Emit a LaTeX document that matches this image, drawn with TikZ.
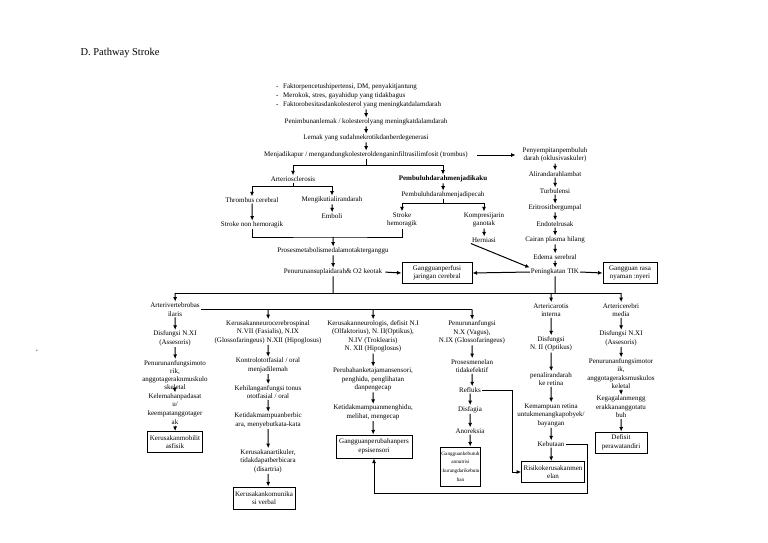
\documentclass[tikz,border=0pt]{standalone}
\usepackage{fontspec}
\setmainfont{Liberation Serif}
\usetikzlibrary{arrows.meta, positioning, calc}

\tikzset{
  lbl/.style={align=center, inner sep=1pt, font=\fontsize{7}{8.5}\selectfont},
  boxed/.style={lbl, draw, line width=1pt, inner sep=2pt, minimum height=21pt},
  arr/.style={-{Latex[length=4.5pt,width=4pt]}, line width=1pt},
  link/.style={line width=1pt}
}

\begin{document}
\begin{tikzpicture}[x=1pt, y=-1pt]
\useasboundingbox[fill=white] (0,0) rectangle (768,543);

\node[anchor=west, font=\fontsize{10.5}{12}\selectfont] (title) at (77,53) {D. Pathway Stroke};
\node[lbl] (tick) at (37,352) {`};

% risk factors and the first chain
\node[lbl, align=left, anchor=west, font=\fontsize{7}{9}\selectfont] (risk) at (275,96)
  {\makebox[7pt][l]{-}Faktorpencetushipertensi, DM, penyakitjantung\\
   \makebox[7pt][l]{-}Merokok, stres, gayahidup yang tidakbagus\\
   \makebox[7pt][l]{-}Faktorobesitasdankolesterol yang meningkatdalamdarah};
\node[lbl] (timbun) at (366,122) {Penimbunanlemak / kolesterolyang meningkatdalamdarah};
\node[lbl] (lemak) at (366,138) {Lemak yang sudahnekrotikdanberdegenerasi};
\node[lbl] (kapur) at (366,155) {Menjadikapur / mengandungkolesteroldenganinfiltrasilimfosit (trombus)};

% right chain
\node[lbl] (sempit) at (555,155) {Penyempitanpembuluh\\darah (oklusivaskuler)};
\node[lbl] (alir) at (555,174) {Alirandarahlambat};
\node[lbl] (turb) at (555,191) {Turbulensi};
\node[lbl] (eritro) at (555,208) {Eritrositbergumpal};
\node[lbl] (endo) at (555,224) {Endotelrusak};
\node[lbl] (cairan) at (555,240) {Cairan plasma hilang};
\node[lbl] (edema) at (555,257) {Edema serebral};
\node[lbl] (tik) at (555,272) {Peningkatan TIK};
\node[boxed, minimum width=54pt] (nyeri) at (630,273) {Gangguan rasa\\nyaman :nyeri};
\node[boxed, minimum width=70pt] (perfusi) at (437,273) {Gangguanperfusi\\jaringan cerebral};

% arteriosclerosis / kaku
\node[lbl] (arterio) at (293,179) {Arteriosclerosis};
\node[lbl, font=\fontsize{7}{8.5}\selectfont\bfseries] (kaku) at (443,179) {Pembuluhdarahmenjadikaku};
\node[lbl] (pecah) at (443,195) {Pembuluhdarahmenjadipecah};
\node[lbl] (thromb) at (252,200) {Thrombus cerebral};
\node[lbl] (ikut) at (332,200) {Mengikutialirandarah};
\node[lbl] (emboli) at (332,216) {Emboli};
\node[lbl] (nonhem) at (252,225) {Stroke non hemoragik};
\node[lbl] (hem) at (402,220) {Stroke\\hemoragik};
\node[lbl] (kompresi) at (484,220) {Kompresijarin\\ganotak};
\node[lbl] (hernia) at (484,240) {Herniasi};
\node[lbl] (proses) at (333,251) {Prosesmetabolismedalamotakterganggu};
\node[lbl] (suplai) at (333,272) {Penurunansuplaidarah\& O2 keotak};

% column: vertebrobasilaris
\node[lbl] (avert) at (175,309.5) {Arterivertebrobas\\ilaris};
\node[lbl] (xia) at (175,338.5) {Disfungsi N.XI\\(Assesoris)};
\node[lbl, font=\fontsize{7}{8.2}\selectfont] (motora) at (175,375) {Penurunanfungsimoto\\rik,\\anggotageraknmuskulo\\skeletal};
\node[lbl, font=\fontsize{7}{8.8}\selectfont] (kelemahan) at (175,409) {Kelemahanpadasat\\u/\\keempatanggotager\\ak};
\node[boxed, minimum width=55pt] (mobil) at (175,442) {Kerusakanmobilit\\asfisik};

% column: neurocerebrospinal
\node[lbl] (cereb) at (268,332) {Kerusakanneurocerebrospinal\\N.VII (Fasialis), N.IX\\(Glossofaringeus) N.XII (Hipoglosus)};
\node[lbl] (kontrol) at (268,365.5) {Kontrolototfasial / oral\\menjadilemah};
\node[lbl] (tonus) at (268,392) {Kehilanganfungsi tonus\\ototfasial / oral};
\node[lbl] (bicara) at (268,420.5) {Ketidakmampuanberbic\\ara, menyebutkata-kata};
\node[lbl] (artikul) at (268,461) {Kerusakanartikuler,\\tidakdapatberbicara\\(disartria)};
\node[boxed, minimum width=62pt, minimum height=22pt] (verbal) at (264,498) {Kerusakankomunika\\si verbal};

% column: neurologis
\node[lbl] (neuro) at (373,336.5) {Kerusakanneurologis, defisit N.I\\(Olfaktorius), N. II(Optikus),\\N.IV (Troklearis)\\N. XII (Hipoglosus)};
\node[lbl] (tajam) at (373,379.5) {Perubahanketajamansensori,\\penghidu, penglihatan\\danpengecap};
\node[lbl] (hidu) at (373,412.5) {Ketidakmampuanmenghidu,\\melihat, mengecap};
\node[boxed, minimum width=76pt, minimum height=23pt] (persepsi) at (374,446.5) {Gangguanperubahanpers\\epsisensori};

% column: vagus
\node[lbl] (vagus) at (472,332.5) {Penurunanfungsi\\N.X (Vagus),\\N.IX (Glossofaringeus)};
\node[lbl] (menelan) at (472,366) {Prosesmenelan\\tidakefektif};
\node[lbl] (refluks) at (470,390) {Refluks};
\node[lbl] (disfagia) at (470,409.5) {Disfagia};
\node[lbl] (anor) at (470,431) {Anoreksia};
\node[boxed, font=\fontsize{5.2}{8.6}\selectfont, inner sep=1pt, minimum width=37pt, minimum height=39pt] (nutrisi) at (460.5,466.5) {Gangguankebutuh\\annutrisi\\:kurangdarikebutu\\han};

% column: carotis
\node[lbl] (carotis) at (551,310) {Artericarotis\\interna};
\node[lbl] (optikus) at (551,344) {Disfungsi\\N. II (Optikus)};
\node[lbl] (retina) at (551,379) {penalirandarah\\ke retina};
\node[lbl] (tangkap) at (551,415) {Kemampuan retina\\untukmenangkapobyek/\\bayangan};
\node[lbl] (buta) at (551,444) {Kebutaan};
\node[boxed, minimum width=62pt] (risiko) at (553,472) {Risikokerusakanmen\\elan};

% column: cerebri media
\node[lbl] (cerebri) at (621,310) {Artericerebri\\media};
\node[lbl] (xib) at (621,338.5) {Disfungsi N.XI\\(Assesoris)};
\node[lbl, font=\fontsize{7}{8.3}\selectfont] (motorb) at (621,373.5) {Penurunanfungsimotor\\ik,\\anggotageraksmuskulos\\keletal};
\node[lbl] (gagal) at (621,407) {Kegagalanmengg\\erakkananggotatu\\buh};
\node[boxed, minimum width=52pt] (defisit) at (621,442.5) {Defisit\\perawatandiri};

% straight arrows (a hair of x offset keeps the vertical ones visible)
\draw[arr] (risk.south -| timbun.north) -- ($(timbun.north)+(0.2,0)$);
\foreach \u/\v in {timbun/lemak, lemak/kapur, sempit/alir, alir/turb, turb/eritro, eritro/endo,
  endo/cairan, cairan/edema, edema/tik, kaku/pecah, thromb/nonhem, ikut/emboli, kompresi/hernia,
  proses/suplai, avert/xia, xia/motora, motora/kelemahan, kelemahan/mobil,
  cereb/kontrol, kontrol/tonus, tonus/bicara, bicara/artikul, artikul/verbal,
  neuro/tajam, tajam/hidu, hidu/persepsi, vagus/menelan, menelan/refluks, refluks/disfagia,
  disfagia/anor, anor/nutrisi, carotis/optikus, optikus/retina, retina/tangkap, tangkap/buta,
  buta/risiko, cerebri/xib, xib/motorb, motorb/gagal, gagal/defisit}
  \draw[arr] (\u.south) -- ($(\u.south |- \v.north)+(0.2,0)$);
\draw[arr, shorten <=8pt, shorten >=6pt] (kapur.east) -- (sempit.west |- kapur.east);
\draw[arr, shorten <=2pt] (suplai.east) -- (perfusi.west);
\draw[arr] (tik.west) -- (perfusi.east);
\draw[arr] (tik.east) -- (nyeri.west);
\draw[arr] (hernia.south west) -- (tik.north west);

% branches
\draw[arr] (kapur.south) -- ++(0,6) -| (arterio.north);
\draw[arr] (kapur.south) -- ++(0,6) -| (kaku.north);
\draw[arr] (arterio.south) -- ++(0,4) -| (thromb.north);
\draw[arr] (arterio.south) -- ++(0,4) -| (ikut.north);
\draw[arr] (pecah.south) -- ++(0,4) -| (hem.north);
\draw[arr] (pecah.south) -- ++(0,4) -| (kompresi.north);
\coordinate (join) at (333,237);
\draw[link] (nonhem.south) |- (join) -| (hem.south);
\draw[arr] (join) -- ($(proses.north)+(0.2,0)$);

% main bus
\coordinate (busL) at (175,293);
\coordinate (busR) at (621,293);
\draw[link] (suplai.south) -- ($(suplai.south |- busL)+(0.2,0)$);
\draw[link] (tik.south) -- ($(tik.south |- busL)+(0.2,0)$);
\draw[link] (busL) -- (busR);
\draw[arr] (busL) -- ($(avert.north)+(0.2,0)$);
\draw[arr] (carotis.north |- busL) -- ($(carotis.north)+(0.2,0)$);
\draw[arr] (busR) -- ($(cerebri.north)+(0.2,0)$);
\draw[link] (avert.east) -- (avert.east -| vagus.north);
\draw[arr] (avert.east -| cereb.north) -- ($(cereb.north)+(0.2,0)$);
\draw[arr] (avert.east -| neuro.north) -- ($(neuro.north)+(0.2,0)$);
\draw[arr] (avert.east -| vagus.north) -- ($(vagus.north)+(0.2,0)$);

% bottom links
\draw[arr] (refluks.east) -- ++(30,0) |- (risiko.west);
\draw[arr] (buta.east) -- ++(22,0) -- ++(0,49) -| (persepsi.south);
\end{tikzpicture}
\end{document}
